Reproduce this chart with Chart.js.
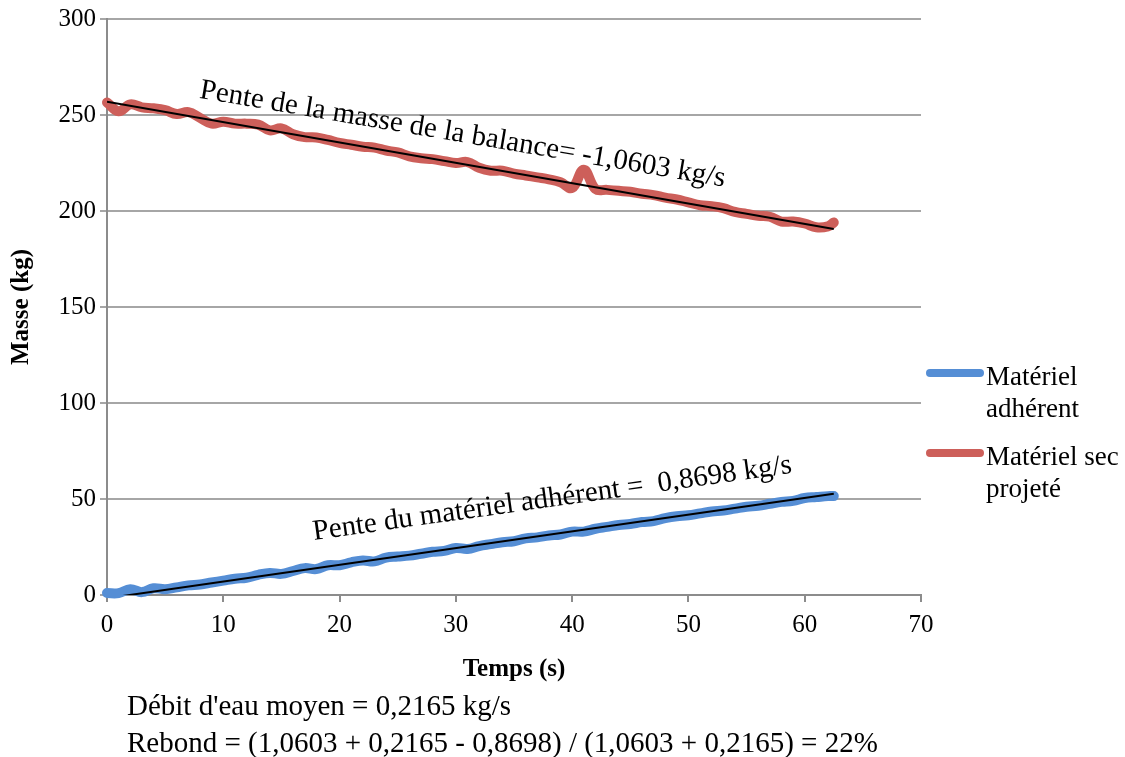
<!DOCTYPE html>
<html>
<head>
<meta charset="utf-8">
<script src="https://cdn.jsdelivr.net/npm/chart.js@4.4.0/dist/chart.umd.min.js"></script>
<style>
  html, body { margin: 0; padding: 0; background: #ffffff; }
  #wrap { width: 1125px; height: 757px; position: relative; }
</style>
</head>
<body>
<div id="wrap"><canvas id="c" width="1125" height="757"></canvas></div>
<script>
// ---- data ----
const times = [0,1,2,3,4,5,6,7,8,9,10,11,12,13,14,15,16,17,18,19,20,21,22,23,24,25,26,27,28,29,30,31,32,33,34,35,36,37,38,39,40,41,42,43,44,45,46,47,48,49,50,51,52,53,54,55,56,57,58,59,60,61,62,62.5];
const blueValues = [1,1,3,1.5,3.5,3,4,5,5.5,6.5,7.5,8.5,9,10.5,11.5,11,12.5,14,13.5,15.5,15.5,17,18,17.5,19.5,20,20.5,21.5,22.5,23,24.5,24,25.5,26.5,27.5,28,29.5,30,31,31.5,33,33,34.5,35.5,36.5,37,38,38.5,40,41,41.5,42.5,43.5,44,45,46,46.5,47.5,48.5,49,50.5,51,51.5,51.5];
const redValues = [256.5,252,255.5,254,253.5,252.5,250.5,251.5,248.5,245.5,246.5,245.5,245.5,245,242,243,240,238.5,238.3,237,235.5,234.5,233.5,233,231.5,230.5,228.5,227.5,227,226,225,225.5,222.5,221,221,219.5,218.5,217.5,216.5,215,212,221.5,211.5,211,210.5,210,209,208.3,207,206,204.5,203,202.5,201.5,199.5,198.5,197.5,197,194.5,194.5,193.5,191.5,192,194];
const trendTimes = [0, 62.5];
const redTrend = [256.9, 190.6];
const blueTrend = [-1.7, 52.7];
const seriesNames = ['Matériel adhérent', 'Matériel sec projeté'];
const legendLines = [['Matériel', 'adhérent'], ['Matériel sec', 'projeté']];
const redNote = 'Pente de la masse de la balance= -1,0603 kg/s';
const blueNote = 'Pente du matériel adhérent =  0,8698 kg/s';
const footLines = ["Débit d'eau moyen = 0,2165 kg/s", 'Rebond = (1,0603 + 0,2165 - 0,8698) / (1,0603 + 0,2165) = 22%'];
const xTitle = 'Temps (s)';
const yTitle = 'Masse (kg)';

const BLUE = '#558ED5';
const RED = '#CD5F5A';
const SERIF = '"Liberation Serif", "Times New Roman", serif';

const toXY = (xs, ys) => xs.map((x, i) => ({x: x, y: ys[i]}));

const extras = {
  id: 'extras',
  afterDraw(chart) {
    const ctx = chart.ctx;
    const xs = chart.scales.x, ys = chart.scales.y;
    ctx.save();
    ctx.fillStyle = '#000';
    // rotated annotations
    ctx.font = '29px ' + SERIF;
    ctx.textBaseline = 'alphabetic';
    ctx.textAlign = 'left';
    const notes = [
      {t: redNote, x: 7.9, y: 259, a: 9.6},
      {t: blueNote, x: 17.8, y: 28.6, a: -8.0}
    ];
    notes.forEach(n => {
      ctx.save();
      ctx.translate(xs.getPixelForValue(n.x), ys.getPixelForValue(n.y));
      ctx.rotate(n.a * Math.PI / 180);
      ctx.fillText(n.t, 0, 0);
      ctx.restore();
    });
    // legend
    const cols = [BLUE, RED];
    const rowsY = [373, 453];
    rowsY.forEach((ry, i) => {
      ctx.strokeStyle = cols[i];
      ctx.lineWidth = 8;
      ctx.lineCap = 'round';
      ctx.beginPath();
      ctx.moveTo(930, ry);
      ctx.lineTo(980, ry);
      ctx.stroke();
      ctx.font = '27px ' + SERIF;
      ctx.textBaseline = 'middle';
      ctx.fillText(legendLines[i][0], 986, ry + 5);
      ctx.fillText(legendLines[i][1], 986, ry + 37);
    });
    // footer text
    ctx.font = '29px ' + SERIF;
    ctx.textBaseline = 'middle';
    ctx.fillText(footLines[0], 127, 707);
    ctx.fillText(footLines[1], 127, 744);
    ctx.restore();
  }
};

new Chart(document.getElementById('c'), {
  type: 'line',
  data: {
    datasets: [
      {label: 'trend red', data: toXY(trendTimes, redTrend), borderColor: '#000', borderWidth: 2, pointRadius: 0, order: 0, tension: 0},
      {label: 'trend blue', data: toXY(trendTimes, blueTrend), borderColor: '#000', borderWidth: 2, pointRadius: 0, order: 0, tension: 0},
      {label: seriesNames[0], data: toXY(times, blueValues), borderColor: BLUE, borderWidth: 10, pointRadius: 0, tension: 0.4, order: 1, clip: false, borderCapStyle: 'round', borderJoinStyle: 'round'},
      {label: seriesNames[1], data: toXY(times, redValues), borderColor: RED, borderWidth: 10, pointRadius: 0, tension: 0.4, order: 1, clip: false, borderCapStyle: 'round', borderJoinStyle: 'round'}
    ]
  },
  options: {
    responsive: false,
    devicePixelRatio: 1,
    animation: false,
    layout: {padding: {left: 0, top: 18, right: 204, bottom: 0}},
    plugins: {legend: {display: false}, tooltip: {enabled: false}},
    scales: {
      x: {
        type: 'linear', min: 0, max: 70,
        afterFit: s => { s.height = 162; },
        ticks: {stepSize: 10, color: '#000', font: {family: SERIF, size: 25}, padding: 8, maxRotation: 0},
        grid: {drawOnChartArea: false, drawTicks: true, tickLength: 7, color: '#8c8c8c', lineWidth: 2},
        border: {color: '#8c8c8c', width: 2},
        title: {display: true, text: xTitle, color: '#000', font: {family: SERIF, size: 25, weight: 'bold'}, padding: {top: 0, bottom: 72}}
      },
      y: {
        min: 0, max: 300,
        afterFit: s => { s.width = 107; },
        ticks: {stepSize: 50, color: '#000', font: {family: SERIF, size: 25}, padding: 4},
        grid: {drawOnChartArea: true, drawTicks: true, tickLength: 7, color: '#a6a6a6', lineWidth: 2},
        border: {color: '#8c8c8c', width: 2},
        title: {display: true, text: yTitle, color: '#000', font: {family: SERIF, size: 25, weight: 'bold'}, padding: {top: 7, bottom: 0}}
      }
    }
  },
  plugins: [extras]
});
</script>
</body>
</html>
